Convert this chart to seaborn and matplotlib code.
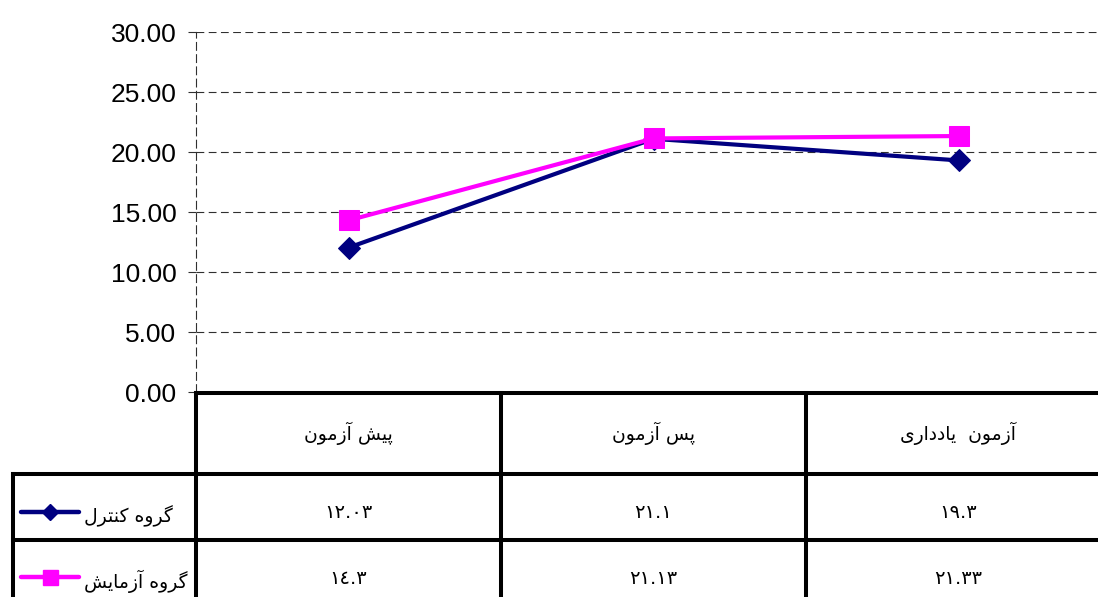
"""
Line chart with Excel-style data table: control vs experiment group scores
"""
import matplotlib
matplotlib.use("Agg")
import matplotlib.pyplot as plt
import matplotlib.transforms as mtransforms
from matplotlib.ticker import FormatStrFormatter
import numpy as np
import pandas as pd
import seaborn as sns

# data
stages = ["پیش آزمون", "پس آزمون", "آزمون  یادداری"]
groups = ["گروه کنترل", "گروه آزمایش"]
control = [12.03, 21.1, 19.3]
experiment = [14.3, 21.13, 21.33]
y_ticks = [0, 5, 10, 15, 20, 25, 30]

df = pd.DataFrame({
    "stage": stages * 2,
    "group": [groups[0]] * len(stages) + [groups[1]] * len(stages),
    "score": control + experiment,
})

# matplotlib has no arabic shaping, so map letters to presentation forms by hand
FORMS = {
    "ا": ("\uFE8D", "\uFE8E", None, None),
    "آ": ("\uFE81", "\uFE82", None, None),
    "د": ("\uFEA9", "\uFEAA", None, None),
    "ر": ("\uFEAD", "\uFEAE", None, None),
    "ز": ("\uFEAF", "\uFEB0", None, None),
    "و": ("\uFEED", "\uFEEE", None, None),
    "پ": ("\uFB56", "\uFB57", "\uFB58", "\uFB59"),
    "ت": ("\uFE95", "\uFE96", "\uFE97", "\uFE98"),
    "س": ("\uFEB1", "\uFEB2", "\uFEB3", "\uFEB4"),
    "ش": ("\uFEB5", "\uFEB6", "\uFEB7", "\uFEB8"),
    "\u06A9": ("\uFB8E", "\uFB8F", "\uFB90", "\uFB91"),
    "گ": ("\uFB92", "\uFB93", "\uFB94", "\uFB95"),
    "ل": ("\uFEDD", "\uFEDE", "\uFEDF", "\uFEE0"),
    "م": ("\uFEE1", "\uFEE2", "\uFEE3", "\uFEE4"),
    "ن": ("\uFEE5", "\uFEE6", "\uFEE7", "\uFEE8"),
    "ه": ("\uFEE9", "\uFEEA", "\uFEEB", "\uFEEC"),
    "\u06CC": ("\uFBFC", "\uFBFD", "\uFBFE", "\uFBFF"),
}


def shape(text):
    text = text.replace("\u064A", "\u06CC").replace("\u0643", "\u06A9")
    out = []
    for i, ch in enumerate(text):
        f = FORMS.get(ch)
        if f is None:
            out.append(ch)
            continue
        prev = text[i - 1] if i > 0 else ""
        nxt = text[i + 1] if i + 1 < len(text) else ""
        join_prev = prev in FORMS and FORMS[prev][2] is not None
        join_next = f[2] is not None and nxt in FORMS
        if join_prev and join_next:
            out.append(f[3])
        elif join_prev:
            out.append(f[1])
        elif join_next:
            out.append(f[2])
        else:
            out.append(f[0])
    return "".join(reversed(out))


def ar_digits(v):
    return str(v).translate(str.maketrans("0123456789", "٠١٢٣٤٥٦٧٨٩"))


sns.set_style("white")
plt.rcParams["font.family"] = ["Liberation Sans", "DejaVu Sans"]

W, H = 1098, 597
fig = plt.figure(figsize=(W / 100, H / 100), dpi=100)
# plot area, right side runs past the figure edge like the original
ax = fig.add_axes([196 / W, (H - 392) / H, (1111 - 196) / W, (392 - 32) / H])
ax.set_facecolor("none")

styles = {
    groups[0]: dict(color="#000080", marker="D", ms=11.5),
    groups[1]: dict(color="#FF00FF", marker="s", ms=15),
}
for g in groups:
    st = styles[g]
    sns.lineplot(data=df[df["group"] == g], x="stage", y="score", ax=ax,
                 color=st["color"], marker=st["marker"], markersize=st["ms"],
                 markeredgecolor=st["color"], linewidth=3, sort=False,
                 errorbar=None, legend=False)

ax.set_xlim(-0.5, len(stages) - 0.5)
ax.set_ylim(0, 30)
ax.set_yticks(y_ticks)
ax.yaxis.set_major_formatter(FormatStrFormatter("%.2f"))
ax.set_xticks([])
ax.set_xlabel("")
ax.set_ylabel("")
ax.yaxis.grid(True, linestyle=(0, (7, 4)), color="#303030", linewidth=0.8)
ax.xaxis.grid(False)
for s in ["top", "right", "bottom"]:
    ax.spines[s].set_visible(False)
ax.spines["left"].set_linestyle((0, (7, 4)))
ax.spines["left"].set_color("#303030")
ax.spines["left"].set_linewidth(0.8)
ax.tick_params(axis="y", direction="out", length=6, width=0.8, color="#303030",
               labelsize=19, pad=8, labelcolor="black", left=True)

# data table drawn under the plot
tab = fig.add_axes([0, 0, 1, 1])
tab.set_xlim(0, W)
tab.set_ylim(H, 0)
tab.axis("off")
trans = mtransforms.blended_transform_factory(ax.transData, tab.transData)

lw = 2.9
edges = np.arange(len(stages) + 1) - 0.5
tab.plot([edges[0], edges[-1]], [393, 393], color="black", lw=lw, transform=trans,
         solid_capstyle="projecting")
for yy in [474, 540]:
    tab.plot([13, W + 10], [yy, yy], color="black", lw=lw, solid_capstyle="projecting")
for xx in edges:
    tab.plot([xx, xx], [393, H + 10], color="black", lw=lw, transform=trans,
             solid_capstyle="projecting")
tab.plot([13, 13], [474, H + 10], color="black", lw=lw, solid_capstyle="projecting")

arabic = dict(family=["DejaVu Sans"], fontsize=13.5, color="black")
for i, name in enumerate(stages):
    tab.text(i, 433, shape(name), ha="center", va="center", transform=trans, **arabic)

row_y = [512, 577]
for g, vals, yy in zip(groups, [control, experiment], row_y):
    st = styles[g]
    tab.plot([21, 79], [yy, yy], color=st["color"], lw=3.2, solid_capstyle="round")
    tab.plot([50], [yy], marker=st["marker"], ms=st["ms"] * 0.72,
             color=st["color"], mec=st["color"])
    tab.text(84, yy + 4, shape(g), ha="left", va="center", **arabic)
    for i, v in enumerate(vals):
        tab.text(i, yy + 1, ar_digits(v), ha="center", va="center", transform=trans,
                 family=["DejaVu Sans"], fontsize=14, color="black")

fig.savefig("out.png", dpi=100)
plt.close(fig)
